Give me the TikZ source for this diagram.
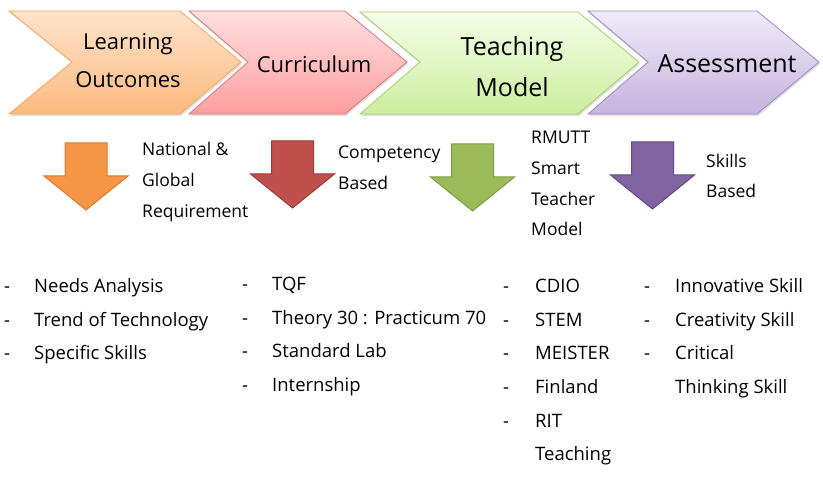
\documentclass[tikz,border=0pt]{standalone}
\usepackage{fontspec}
\setmainfont{Open Sans}
\usetikzlibrary{shadows}

\definecolor{orgtop}{HTML}{FFE3CC}
\definecolor{orgbot}{HTML}{FBBA7E}
\definecolor{orgline}{HTML}{F9A664}
\definecolor{redtop}{HTML}{FFE0E1}
\definecolor{redbot}{HTML}{FF9E9F}
\definecolor{redline}{HTML}{D9797B}
\definecolor{grntop}{HTML}{F4FFE8}
\definecolor{grnbot}{HTML}{CCEE9E}
\definecolor{grnline}{HTML}{A8CB70}
\definecolor{purtop}{HTML}{F0EBF8}
\definecolor{purbot}{HTML}{C5B3DF}
\definecolor{purline}{HTML}{9D87C2}
\definecolor{org}{HTML}{F79646}
\definecolor{orgdark}{HTML}{DC7A33}
\definecolor{red}{HTML}{C0504D}
\definecolor{reddark}{HTML}{9E3B39}
\definecolor{grn}{HTML}{9BBB59}
\definecolor{grndark}{HTML}{7F9C44}
\definecolor{pur}{HTML}{8064A2}
\definecolor{purdark}{HTML}{654A88}

\tikzset{
    chev/.style={draw=#1line, line width=0.8pt, top color=#1top,
        bottom color=#1bot,
        drop shadow={opacity=0.25, shadow xshift=1pt, shadow yshift=-2pt}},
    dn/.style={draw=#1dark, fill=#1, line width=1pt},
    head/.style={align=center, inner sep=0pt,
        font=\fontsize{#1}{#1}\selectfont},
    lbl/.style={anchor=west, align=left, inner sep=0pt,
        font=\fontsize{17.5}{30.8}\selectfont},
    itm/.style={anchor=west, inner sep=0pt, text height=13pt,
        text depth=4pt, font=\fontsize{18.5}{18.5}\selectfont}
}

\begin{document}
\begin{tikzpicture}[x=1pt, y=-1pt]
    \pgfmathsetmacro\gap{33.7};
    \pgfmathsetmacro\top{288};

    \useasboundingbox (0,0) rectangle (823,478);

    \draw[chev=org] (9,11) -- (180,11) -- (241,62) -- (180,114) -- (9,114)
        -- (72,62) -- cycle;
    \draw[chev=red] (189,11) -- (345,11) -- (407,62) -- (345,114)
        -- (189,114) -- (248,62) -- cycle;
    \draw[chev=grn] (360,12) -- (578,12) -- (639,62) -- (578,114)
        -- (360,114) -- (420,62) -- cycle;
    \draw[chev=pur] (588,11) -- (757,11) -- (819,62) -- (757,114)
        -- (588,114) -- (648,62) -- cycle;
    \node[head=22] (lo) at (128,61) {Learning\\[16pt]Outcomes};
    \node[head=22] (cu) at (314,64) {Curriculum};
    \node[head=25] (tm) at (512,67) {Teaching\\[16pt]Model};
    \node[head=25] (as) at (727,64) {Assessment};

    \foreach \cx/\ty/\c in {86/143/org, 292.5/141/red, 472.5/144/grn,
        652.5/142/pur}
        \draw[dn=\c] ({\cx-21},\ty) -- ({\cx+21},\ty) -- ({\cx+21},\ty+33)
            -- ({\cx+42},\ty+33) -- (\cx,\ty+67) -- ({\cx-42},\ty+33)
            -- ({\cx-21},\ty+33) -- cycle;

    \node[lbl] (lbn) at (142,182) {National \&\\Global\\Requirement};
    \node[lbl] (lbc) at (338,167.5) {Competency\\Based};
    \node[lbl] (lbr) at (531,183.5) {RMUTT\\Smart\\Teacher\\Model};
    \node[lbl] (lbs) at (706,176) {Skills\\Based};

    \foreach \t [count=\i] in {Needs Analysis, Trend of Technology,
        Specific Skills} {
        \node[itm] (na\i) at (34, \top+\i*\gap-\gap) {\t};
        \node[itm] (nad\i) at (4, \top+\i*\gap-\gap) {-};
    }
    \foreach \t [count=\i] in {TQF, Theory 30 : Practicum 70, Standard Lab,
        Internship} {
        \node[itm] (cu\i) at (272, \top-2+\i*\gap-\gap) {\t};
        \node[itm] (cud\i) at (242, \top-2+\i*\gap-\gap) {-};
    }
    \foreach \t [count=\i] in {CDIO, STEM, MEISTER, Finland, RIT} {
        \node[itm] (tm\i) at (535, \top+\i*\gap-\gap) {\t};
        \node[itm] (tmd\i) at (503, \top+\i*\gap-\gap) {-};
    }
    \node[itm] (tm6) at (535, \top+5*\gap) {Teaching};
    \foreach \t [count=\i] in {Innovative Skill, Creativity Skill, Critical} {
        \node[itm] (as\i) at (675, \top+\i*\gap-\gap) {\t};
        \node[itm] (asd\i) at (644, \top+\i*\gap-\gap) {-};
    }
    \node[itm] (as4) at (675, \top+3*\gap) {Thinking Skill};
\end{tikzpicture}
\end{document}
